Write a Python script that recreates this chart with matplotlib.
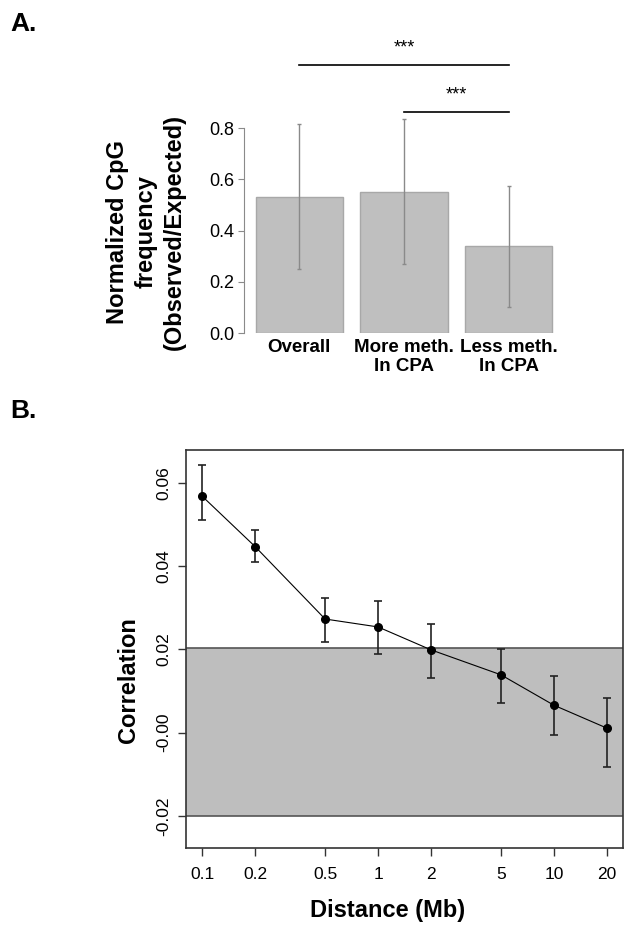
import numpy as np
import matplotlib
matplotlib.use('Agg')
import matplotlib.pyplot as plt
from matplotlib.ticker import NullLocator

plt.rcParams['font.family'] = ['Liberation Sans', 'DejaVu Sans']

# panel A: normalized CpG frequency
categories = ['Overall', 'More meth.\nIn CPA', 'Less meth.\nIn CPA']
cpg_mean = [0.532, 0.551, 0.338]
cpg_low = [0.250, 0.269, 0.101]
cpg_high = [0.815, 0.835, 0.575]
a_ticks = [0.0, 0.2, 0.4, 0.6, 0.8]
sig_pairs = [(0, 2), (1, 2)]
sig_heights = [1.046, 0.862]
sig_labels = ['***', '***']

# panel B: correlation vs distance
distance = [0.1, 0.2, 0.5, 1, 2, 5, 10, 20]
distance_labels = ['0.1', '0.2', '0.5', '1', '2', '5', '10', '20']
corr = [0.0568, 0.0447, 0.0273, 0.0254, 0.0199, 0.0139, 0.0066, 0.0011]
corr_low = [0.0510, 0.0409, 0.0219, 0.0190, 0.0132, 0.0072, -0.0005, -0.0082]
corr_high = [0.0643, 0.0487, 0.0323, 0.0317, 0.0262, 0.0201, 0.0135, 0.0083]
null_band = (-0.0201, 0.0204)
b_ticks = [-0.02, 0.0, 0.02, 0.04, 0.06]
b_ticklabels = ['-0.02', '-0.00', '0.02', '0.04', '0.06']

W, H = 632, 925
fig = plt.figure(figsize=(W / 100, H / 100), dpi=100)

# ---- panel A ----
axA = fig.add_axes([244 / W, (H - 333) / H, 320 / W, 230.6 / H])
# R barplot layout: width 1, space 0.2
xpos = 0.7 + 1.2 * np.arange(len(categories))
mean = np.array(cpg_mean)
axA.bar(xpos, mean, width=1.0, color='#bfbfbf', edgecolor='#a8a8a8', linewidth=1)
axA.errorbar(xpos, mean, yerr=[mean - np.array(cpg_low), np.array(cpg_high) - mean],
             fmt='none', ecolor='#8a8a8a', elinewidth=1, capsize=1.5, capthick=1)
axA.set_xlim(0.064, 3.736)
axA.set_ylim(0, 0.9)
for s in ['top', 'right', 'bottom']:
    axA.spines[s].set_visible(False)
axA.spines['left'].set_bounds(0, 0.8)
axA.spines['left'].set_color('#8a8a8a')
axA.set_yticks(a_ticks)
axA.set_yticklabels(['%.1f' % t for t in a_ticks], fontsize=13)
axA.tick_params(axis='y', length=4, color='#8a8a8a', pad=3)
axA.set_xticks(xpos)
axA.set_xticklabels(categories, fontsize=13.5, fontweight='bold')
axA.tick_params(axis='x', length=0, pad=4)

for (i, j), h, lab in zip(sig_pairs, sig_heights, sig_labels):
    axA.plot([xpos[i], xpos[j]], [h, h], color='black', lw=1.2, clip_on=False)
    axA.text((xpos[i] + xpos[j]) / 2, h + 0.05, lab, ha='center', va='baseline',
             fontsize=13)

fig.text(146 / W, 1 - 232 / H, 'Normalized CpG\nfrequency\n(Observed/Expected)',
         rotation=90, ha='center', va='center', multialignment='center',
         fontsize=17, fontweight='bold', linespacing=1.3)
fig.text(10 / W, 1 - 31 / H, 'A.', fontsize=19, fontweight='bold', va='baseline')

# ---- panel B ----
axB = fig.add_axes([186 / W, 77 / H, 437 / W, 398 / H])
axB.set_xscale('log')
axB.axhspan(null_band[0], null_band[1], color='#bebebe', zorder=0, lw=0)
for yb in null_band:
    axB.axhline(yb, color='#555555', lw=1.2, zorder=1)
c = np.array(corr)
axB.errorbar(distance, c, yerr=[c - np.array(corr_low), np.array(corr_high) - c],
             fmt='-o', color='black', lw=0.8, ms=5.5, ecolor='#222222',
             elinewidth=1.2, capsize=3, capthick=1.2, zorder=3)
axB.set_xlim(10 ** -1.092, 10 ** 1.393)
axB.set_ylim(-0.0277, 0.0679)
for s in axB.spines.values():
    s.set_color('#333333')
    s.set_linewidth(1.2)
axB.set_xticks(distance)
axB.set_xticklabels(distance_labels, fontsize=12.5)
axB.xaxis.set_minor_locator(NullLocator())
axB.set_yticks(b_ticks)
axB.set_yticklabels(b_ticklabels, fontsize=12.5, rotation=90, va='center')
axB.tick_params(axis='both', length=5.5, color='#333333', width=1)
axB.tick_params(axis='x', pad=8)
axB.tick_params(axis='y', pad=5)

fig.text(129 / W, 1 - 680 / H, 'Correlation', rotation=90, ha='center', va='center',
         fontsize=17, fontweight='bold')
fig.text(388 / W, 1 - 910 / H, 'Distance (Mb)', ha='center', va='center',
         fontsize=17, fontweight='bold')
fig.text(10 / W, 1 - 418 / H, 'B.', fontsize=19, fontweight='bold', va='baseline')

fig.savefig('out.png', dpi=100)
